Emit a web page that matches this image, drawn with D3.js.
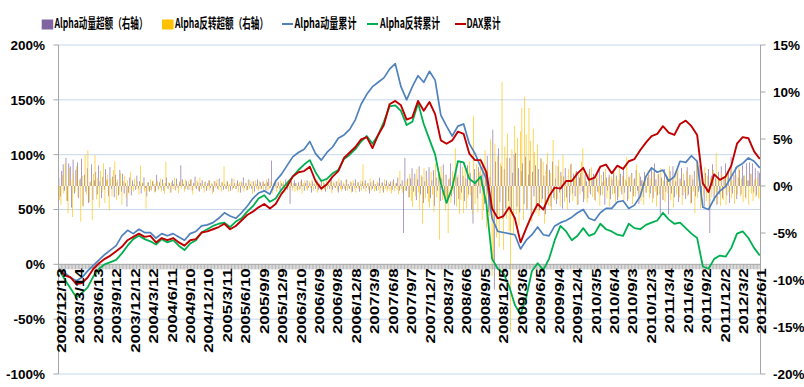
<!DOCTYPE html>
<html><head><meta charset="utf-8">
<script src="https://cdn.jsdelivr.net/npm/d3@7"></script>
<style>body{margin:0;background:#fff}svg{display:block}</style>
</head><body><svg id="c" width="804" height="387"></svg>
<script>
const tickLabels = ["2002/12/13","2003/3/14","2003/6/13","2003/9/12","2003/12/12","2004/3/12","2004/6/11","2004/9/10","2004/12/10","2005/3/11","2005/6/10","2005/9/9","2005/12/9","2006/3/10","2006/6/9","2006/9/8","2006/12/8","2007/3/9","2007/6/8","2007/9/7","2007/12/7","2008/3/7","2008/6/6","2008/9/5","2008/12/5","2009/3/6","2009/6/5","2009/9/4","2009/12/4","2010/3/5","2010/6/4","2010/9/3","2010/12/3","2011/3/4","2011/6/3","2011/9/2","2011/12/2","2012/3/2","2012/6/1"];
const leftTicks = [-100,-50,0,50,100,150,200];
const rightTicks = [-20,-15,-10,-5,0,5,10,15];
const seriesNames = ["Alpha动量超额（右轴）","Alpha反转超额（右轴）","Alpha动量累计","Alpha反转累计","DAX累计"];

// cumulative lines (%), sampled evenly from 2002/12/13 to 2012/6/1
const momLine = [-4,-8,-12,-15,-12,-6,-1,4,9,13,
17,26,31,28,32,29,29,24,28,26,
28,25,22,28,30,35,36,38,42,47,
44,42,47,53,60,65,67,64,76,82,
90,98,102,105,112,101,95,102,107,115,
118,123,132,146,155,162,166,170,178,183,
162,150,162,172,166,176,168,136,126,117,
126,128,110,101,89,78,42,30,29,28,
27,14,22,27,34,27,26,35,38,40,
43,47,50,42,40,47,51,51,57,58,
51,54,62,80,88,84,86,76,80,94,
93,99,94,52,50,60,67,71,80,89,
92,97,94,88];
const revLine = [-5,-14,-22,-30,-26,-21,-11,-4,0,2,
4,10,17,23,26,23,21,18,23,20,
22,17,13,19,22,29,32,35,37,38,
34,39,42,48,53,60,63,57,60,68,
74,80,86,91,95,84,76,78,83,86,
96,100,105,112,117,110,118,130,144,145,
140,127,130,147,128,114,100,74,56,70,
94,93,78,74,80,55,5,-4,-8,-20,
-37,-46,-30,-6,1,-5,5,22,35,30,
22,26,33,26,28,37,32,30,27,26,
37,33,32,36,38,40,47,41,37,38,
33,28,24,-2,-4,5,8,7,15,28,
30,24,15,8];
const daxLine = [-5,-10,-12,-18,-17,-12,-4,1,5,8,
12,16,22,25,28,25,26,20,24,22,
24,20,17,22,23,29,30,32,34,37,
32,35,40,45,48,52,55,51,55,64,
71,80,84,85,89,76,69,73,80,85,
97,102,107,114,116,106,118,127,146,149,
145,132,134,149,140,148,137,113,110,113,
121,119,101,95,95,84,51,42,44,52,
42,20,33,45,55,50,62,70,69,76,
76,83,88,77,79,89,91,83,90,87,
94,96,104,111,117,119,126,120,118,128,
131,126,118,74,66,82,77,80,90,110,
116,115,103,96];

// weekly excess returns (%), right axis, 2002/12/13 .. 2012/6/1
const momExcess = [
0.9,-1.1,1.6,2.3,-0.5,3.0,-1.6,2.4,2.1,-2.3,2.8,-0.8,1.7,
2.5,-1.3,0.8,2.9,-2.1,1.2,-0.6,1.9,-1.8,0.4,2.3,-1.5,0.6,
1.5,-0.9,2.2,0.5,-1.3,1.0,-0.4,1.8,0.7,-1.1,2.0,-0.3,1.0,
-1.2,1.2,0.4,-1.0,1.7,-0.6,1.3,-0.8,0.3,-2.2,-0.7,0.9,-1.0,
0.6,0.2,-0.4,1.1,-0.3,0.5,-0.8,0.3,0.9,-0.2,-1.1,0.4,-0.6,
-0.4,0.5,0.2,-0.6,1.2,-0.3,0.4,-0.2,0.7,-0.5,0.3,0.9,-0.3,
0.3,-0.7,0.6,0.2,-0.4,0.8,-0.2,0.4,2.2,0.7,0.2,-0.3,0.5,
-0.4,0.2,0.7,-0.5,0.3,1.0,-0.3,0.4,-0.6,0.3,0.6,-0.2,0.4,
-0.5,0.3,0.6,-0.2,0.2,-0.6,0.5,0.3,-0.3,0.8,-0.1,0.4,-0.4,
0.2,-0.3,0.5,0.1,-0.5,0.8,-0.2,0.3,-0.3,0.6,0.2,-0.7,0.4,
0.9,-0.2,0.3,-0.4,0.7,0.2,-0.3,0.5,-0.6,0.2,0.7,-0.3,0.4,
-0.3,0.5,0.2,-0.5,0.4,0.8,-0.2,2.7,-0.4,0.3,0.6,-0.2,0.4,
-0.6,0.3,0.2,-0.3,0.7,-0.4,0.2,-1.9,0.5,-0.2,0.6,0.3,-0.4,
0.4,-0.3,0.7,0.1,-0.5,0.3,0.6,-0.2,0.3,-0.7,0.5,0.2,-0.3,
0.6,-0.4,0.2,0.7,-0.2,0.3,-0.6,0.4,0.1,-0.3,0.8,-0.4,0.3,
-0.2,0.5,-0.7,0.3,0.6,-0.3,0.2,-0.5,0.7,0.2,-0.3,0.4,-0.6,
0.3,0.7,-0.2,0.4,-0.6,0.2,0.5,-0.3,0.6,-0.2,0.3,-0.8,0.4,
-0.3,0.6,0.2,-0.5,0.3,0.9,-0.2,0.4,-0.7,0.2,0.6,-0.3,0.2,
0.5,-0.4,0.7,-0.2,0.3,0.9,-0.5,0.2,0.6,-5.0,3.0,-0.5,0.8,
-1.2,0.8,1.9,-0.6,1.3,-1.5,0.7,2.1,-0.9,1.0,-1.8,0.5,1.6,
-0.8,2.0,-1.3,0.6,1.7,-2.1,0.9,-0.5,1.4,-1.6,0.8,2.3,-1.0,
1.2,-1.8,0.7,2.4,-1.1,0.5,-2.0,1.5,0.9,-1.4,2.6,-0.7,1.1,
-1.6,0.8,2.2,-0.9,1.4,-2.5,-4.0,1.8,0.6,-1.3,2.0,-0.8,1.2,
2.4,-1.9,1.5,3.2,-2.8,1.0,-2.2,6.0,-11.0,2.6,-3.1,4.0,-1.7,
2.1,-3.5,1.8,-2.4,3.0,-1.6,3.0,-2.7,1.4,3.3,3.5,-2.2,1.9,
-2.8,1.6,2.4,-1.9,3.1,-2.5,1.2,2.7,-3.4,1.5,-1.1,2.2,-2.0,
1.8,-2.6,2.9,-1.4,1.1,-3.0,2.3,-0.9,1.7,-2.2,2.6,-1.3,0.8,
-1.9,2.1,-0.7,1.5,-2.4,1.0,1.9,-1.2,0.6,-1.8,2.3,-0.8,1.3,
-1.1,1.6,-2.0,0.9,1.4,-0.6,-1.7,1.2,0.5,-1.3,1.8,-0.9,0.7,
1.3,-1.5,0.8,-0.6,1.9,-1.0,0.4,1.5,-2.0,0.9,-0.5,1.2,-1.4,
0.7,1.6,-0.8,1.1,-1.5,0.6,1.3,-0.9,2.0,-0.7,0.5,-1.6,1.0,
-0.6,1.4,-1.1,0.8,1.7,-0.5,-1.9,1.0,0.6,-1.2,1.5,-0.7,0.9,
1.2,-0.8,1.9,-1.3,2.4,0.7,-1.0,1.3,-3.0,0.9,-1.5,1.8,-0.6,
1.0,-3.0,1.6,-0.8,2.1,-1.2,0.5,1.4,-1.7,0.8,1.9,-1.0,0.6,
-1.4,2.0,-0.9,1.2,-1.8,0.7,1.6,-1.1,2.2,-0.6,2.2,-1.5,0.9,
-2.2,1.4,-0.7,1.8,-5.0,1.1,2.3,-1.6,0.8,-2.0,1.5,-0.9,2.1,
-1.3,0.7,2.4,-1.0,1.5,-1.8,3.1,-0.8,1.2,2.0,-1.4,0.9,1.7,
-0.9,2.2,1.1,-1.2,2.4,0.6,2.5,1.3,2.4,-0.7,1.9,-1.0,1.6,
1.4];
const revExcess = [
-1.5,-2.0,1.2,-0.8,2.4,-1.6,-2.9,1.9,0.7,-3.3,1.4,-0.6,2.1,
-1.2,0.6,-3.8,1.1,-2.2,3.3,-0.9,3.8,-1.7,0.5,-3.6,1.3,3.3,
-1.4,0.9,-2.3,1.6,-0.7,2.4,-1.8,0.6,1.2,-2.6,0.8,-1.1,1.7,
2.6,-1.5,0.7,-0.9,1.4,-2.0,0.5,1.1,-1.3,0.6,-0.8,1.5,-0.4,
-0.6,0.8,-0.3,0.5,-0.9,2.2,-0.3,0.4,-0.6,-2.4,0.4,-0.5,0.7,
-0.5,0.6,-0.7,0.3,0.5,-0.4,0.8,-0.6,0.3,-0.8,2.6,-0.2,0.4,
-0.7,0.4,-0.3,0.9,-0.5,0.2,-0.8,0.6,-0.3,0.5,-0.6,0.7,-0.2,
0.5,-0.4,0.7,-0.9,0.3,-0.2,0.6,-0.5,0.9,-0.3,0.2,-0.7,0.5,
-0.3,0.6,-0.5,0.3,-0.8,0.5,-0.2,0.7,-0.4,0.3,-0.6,0.4,2.1,
-0.3,0.5,-0.6,0.2,0.4,-0.4,0.8,-0.3,0.3,-0.7,0.4,0.5,-0.2,
-0.6,0.3,-0.5,0.6,-0.3,0.5,-0.8,0.2,0.6,-0.3,-0.5,0.5,-0.3,
0.4,-0.6,0.3,0.7,-0.5,-0.3,0.5,-0.8,0.3,-0.2,-0.6,0.4,-0.3,
0.6,-0.4,0.5,-0.7,0.2,0.5,-0.3,0.8,-0.5,0.3,-0.6,0.3,-0.5,
-0.4,0.5,-0.8,0.3,0.6,-0.3,-0.5,0.5,-0.2,0.7,-0.5,0.3,0.7,
-0.7,0.3,-0.3,-0.6,0.5,-0.4,0.6,-0.3,0.2,0.6,-0.8,0.4,-0.2,
0.5,-0.5,0.8,-0.3,-0.6,0.4,-0.3,0.7,-0.5,-0.2,0.5,-0.7,0.6,
-0.3,-0.7,0.4,-0.3,0.6,-0.5,2.3,0.3,-0.6,0.3,-0.4,0.8,-0.5,
0.5,-0.6,-0.3,0.5,-0.4,-0.8,0.3,-0.5,0.7,-0.3,-0.6,0.4,-0.5,
-0.8,0.5,-0.6,0.3,-0.4,-0.9,1.6,-0.3,-0.7,0.5,-0.5,0.6,-1.2,
1.3,-1.6,-2.2,0.9,-1.1,1.8,-0.7,-2.5,1.2,-4.0,1.9,-1.3,0.8,
-1.7,-2.3,1.5,-0.9,-2.8,2.4,-1.2,1.0,-5.7,2.1,-1.5,1.3,-2.6,
-1.4,-5.0,0.9,-1.8,1.6,-0.8,4.0,-2.2,1.2,-3.0,-1.5,2.0,-2.9,
1.8,-2.4,-1.3,2.6,-1.0,-3.0,7.4,-1.9,2.3,-2.8,1.5,3.0,-3.6,
-2.6,3.8,-4.5,1.9,-3.2,5.0,-9.6,-8.0,4.5,-5.5,3.2,-6.5,2.4,
11.1,-6.8,4.2,-3.5,5.6,-4.8,-15.5,3.9,-5.2,6.4,-3.0,5.1,-4.2,
5.8,8.3,-3.6,9.5,5.5,-2.4,8.3,4.8,-3.8,6.1,3.6,-2.9,4.4,
-3.2,3.0,-1.8,2.6,-4.0,1.7,3.5,-2.1,1.4,-2.6,4.9,-1.5,2.2,
-1.4,2.8,-2.2,1.1,3.3,-1.7,0.9,-2.5,1.8,-1.0,2.4,-1.6,0.7,
1.5,-2.0,1.2,-0.9,2.6,4.0,-1.4,0.8,-1.8,1.3,-0.7,2.0,-1.2,
0.9,-1.6,1.4,-0.8,-2.1,1.2,-1.0,0.6,1.8,-1.3,0.9,-2.2,1.0,
-0.9,1.5,-1.7,0.8,-1.2,2.0,-0.6,1.1,-1.5,0.7,3.1,-1.4,0.9,
1.2,-1.9,0.7,-1.1,2.3,-0.8,1.4,-1.6,0.6,-2.0,1.1,-0.7,1.7,
-1.3,0.8,-1.8,1.5,-0.6,-2.2,1.3,-0.9,1.9,-1.4,0.6,-1.7,1.2,
-0.8,2.1,-1.5,0.7,-2.3,1.4,-0.9,1.8,-1.2,0.5,-2.0,1.3,-0.7,
1.6,-1.1,0.9,-1.9,1.2,-0.6,-2.9,2.8,-1.3,0.8,-2.4,1.5,-1.0,
2.0,-1.6,1.1,-2.3,0.9,-1.2,1.7,-0.8,3.5,-1.9,0.7,-2.1,1.3,
-1.5,0.9,-2.0,1.4,-0.7,1.8,-1.3,0.6,-1.9,1.2,-0.9,2.2,-1.1,
0.8,-1.7,1.1,-1.4,0.6,-2.0,1.3,-0.8,-1.6,0.7,-1.2,0.9,-1.3,
-1.4];

const colors = {mom:"#8064A2", rev:"#FFC000", momL:"#4F81BD", revL:"#00B050", dax:"#C00000"};

const svg = d3.select("#c");
const L = 58.5, R = 760.5, T = 45, B = 374;
const nW = momExcess.length;
const x = d3.scaleLinear().domain([-0.5, nW - 0.5]).range([L, R]);
const yL = d3.scaleLinear().domain([-100, 200]).range([B, T]);
const yR = d3.scaleLinear().domain([-20, 15]).range([B, T]);
const band = (R - L) / nW;

// gridlines
svg.append("g").selectAll("line").data(leftTicks.filter(v => v !== 0)).join("line")
  .attr("x1", L).attr("x2", R).attr("y1", d => yL(d)).attr("y2", d => yL(d))
  .attr("stroke", "#C6D7EC").attr("stroke-width", 1);

// bars
const bw = band * 0.46;
const gb = svg.append("g");
gb.selectAll("rect.m").data(momExcess).join("rect").attr("class", "m")
  .attr("x", (d, i) => x(i) - bw).attr("width", bw)
  .attr("y", d => Math.min(yR(d), yR(0))).attr("height", d => Math.abs(yR(d) - yR(0)))
  .attr("fill", colors.mom);
gb.selectAll("rect.r").data(revExcess).join("rect").attr("class", "r")
  .attr("x", (d, i) => x(i)).attr("width", bw)
  .attr("y", d => Math.min(yR(d), yR(0))).attr("height", d => Math.abs(yR(d) - yR(0)))
  .attr("fill", colors.rev);

// x axis line + dense ticks
const y0 = yL(0);
const gx = svg.append("g");
gx.selectAll("line.t").data(d3.range(nW + 1)).join("line").attr("class", "t")
  .attr("x1", d => x(d - 0.5)).attr("x2", d => x(d - 0.5))
  .attr("y1", y0).attr("y2", y0 + 5).attr("stroke", "#A6A6A6").attr("stroke-width", 0.8);
gx.append("line").attr("x1", L).attr("x2", R).attr("y1", y0).attr("y2", y0)
  .attr("stroke", "#A6A6A6").attr("stroke-width", 1);

// lines
function drawLine(data, color, w) {
  const M = data.length;
  const ln = d3.line().x((d, i) => x(i * (nW - 1) / (M - 1))).y(d => yL(d));
  svg.append("path").datum(data).attr("d", ln).attr("fill", "none")
    .attr("stroke", color).attr("stroke-width", w).attr("stroke-linejoin", "round");
}
drawLine(momLine, colors.momL, 1.7);
drawLine(revLine, colors.revL, 1.8);
drawLine(daxLine, colors.dax, 1.9);

// left axis
const ga = svg.append("g");
ga.append("line").attr("x1", L).attr("x2", L).attr("y1", T).attr("y2", B).attr("stroke", "#A6A6A6");
ga.selectAll("line.k").data(leftTicks).join("line").attr("class", "k")
  .attr("x1", L - 5).attr("x2", L).attr("y1", d => yL(d)).attr("y2", d => yL(d)).attr("stroke", "#A6A6A6");
ga.selectAll("text").data(leftTicks).join("text")
  .attr("x", 45).attr("y", d => yL(d)).attr("dy", "0.36em").attr("text-anchor", "end")
  .style("font", "bold 13.5px 'Liberation Sans', Arial, sans-serif").text(d => d + "%");

// right axis
const gr = svg.append("g");
gr.append("line").attr("x1", R).attr("x2", R).attr("y1", T).attr("y2", B).attr("stroke", "#A6A6A6");
gr.selectAll("line.k").data(rightTicks).join("line").attr("class", "k")
  .attr("x1", R).attr("x2", R + 5).attr("y1", d => yR(d)).attr("y2", d => yR(d)).attr("stroke", "#A6A6A6");
gr.selectAll("text").data(rightTicks).join("text")
  .attr("x", 773).attr("y", d => yR(d)).attr("dy", "0.36em").attr("text-anchor", "start")
  .style("font", "bold 13.5px 'Liberation Sans', Arial, sans-serif").text(d => d + "%");

// x labels
svg.append("g").selectAll("text").data(tickLabels).join("text")
  .attr("transform", (d, i) => `translate(${x(i * 13) + 2},${y0 + 4}) rotate(-90) scale(1.3,1)`)
  .attr("dy", "0.36em").attr("text-anchor", "end")
  .style("font", "bold 13px 'Liberation Sans', Arial, sans-serif").text(d => d);

// legend
const lg = svg.append("g");
const leg = [
  {type: "rect", c: colors.mom, sx: 41.7, tx: 54.5, len: 93},
  {type: "rect", c: colors.rev, sx: 162, tx: 175, len: 93},
  {type: "line", c: colors.momL, sx: 282, tx: 294.5, len: 62},
  {type: "line", c: colors.revL, sx: 367, tx: 380, len: 60},
  {type: "line", c: colors.dax, sx: 455, tx: 466.5, len: 34}
];
leg.forEach((it, i) => {
  if (it.type === "rect") lg.append("rect").attr("x", it.sx).attr("y", 19.5).attr("width", 11.5).attr("height", 10).attr("fill", it.c);
  else lg.append("line").attr("x1", it.sx).attr("x2", it.sx + 11).attr("y1", 24).attr("y2", 24).attr("stroke", it.c).attr("stroke-width", 2);
  lg.append("text").attr("transform", `translate(${it.tx},28) scale(1,1.28)`)
    .attr("textLength", it.len).attr("lengthAdjust", "spacingAndGlyphs")
    .style("font", "bold 10.5px 'Noto Sans CJK SC', sans-serif").text(seriesNames[i]);
});
</script></body></html>
